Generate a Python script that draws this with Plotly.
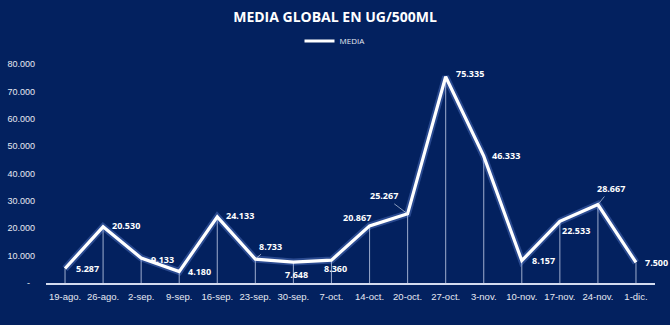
import plotly.graph_objects as go

# Weekly sampling dates and global mean values (ug/500ml)
fechas = ["19-ago.", "26-ago.", "2-sep.", "9-sep.", "16-sep.", "23-sep.", "30-sep.", "7-oct.",
          "14-oct.", "20-oct.", "27-oct.", "3-nov.", "10-nov.", "17-nov.", "24-nov.", "1-dic."]
media = [5287, 20530, 9133, 4180, 24133, 8733, 7648, 8360,
         20867, 25267, 75335, 46333, 8157, 22533, 28667, 7500]
serie = "MEDIA"

y_ticks = [0, 10000, 20000, 30000, 40000, 50000, 60000, 70000, 80000]

# label placement (pixel offset of label centre from its point) and leader-line flag
label_dx = [22, 23, 21, 20, 23, 15, 3, 4, -13, -24, 24, 22, 22, 16, 13, 21]
label_dy = [0, -1, 1, 0, -1, -13, 12, 8, -8, -18, -3, -1, 0, 9, -16, 0]
leader = [False, False, False, False, False, True, False, False,
          False, True, False, False, False, False, True, False]

BG = "#03215f"
TXT = "#e6e9f2"


def fmt(v):
    return f"{v:,}".replace(",", ".")


fig = go.Figure()

# drop lines from each point to the axis
fig.add_trace(go.Scatter(
    x=fechas, y=media, mode="markers", marker=dict(size=0.1, color="rgba(0,0,0,0)"),
    error_y=dict(type="data", symmetric=False, array=[0] * len(media), arrayminus=media,
                 color="rgba(205,215,240,0.7)", thickness=1.1, width=0),
    showlegend=False, hoverinfo="skip"))

# soft glow under the line
fig.add_trace(go.Scatter(
    x=fechas, y=media, mode="lines",
    line=dict(color="rgba(130,165,255,0.3)", width=7),
    showlegend=False, hoverinfo="skip"))

fig.add_trace(go.Scatter(
    x=fechas, y=media, mode="lines", name=serie,
    line=dict(color="white", width=3.2)))

for i, (f, v) in enumerate(zip(fechas, media)):
    fig.add_annotation(
        x=f, y=v, xref="x", yref="y", text=f"<b>{fmt(v)}</b>",
        showarrow=True, ax=label_dx[i], ay=label_dy[i],
        arrowhead=0, arrowwidth=0.8, standoff=0, startstandoff=0,
        arrowcolor="rgba(220,228,245,0.8)" if leader[i] else "rgba(0,0,0,0)",
        font=dict(family="Open Sans", size=9, color="white"))

fig.update_layout(
    width=670, height=325,
    paper_bgcolor=BG, plot_bgcolor=BG,
    margin=dict(l=46, r=15, t=64, b=42, autoexpand=False),
    title=dict(text="<b>MEDIA GLOBAL EN UG/500ML</b>", x=0.5, xanchor="center",
               y=1 - 17 / 325, yanchor="middle", yref="container",
               font=dict(family="Open Sans", size=14, color="white")),
    legend=dict(orientation="h", x=0.5, xanchor="center", xref="container",
                y=1 - 41 / 325, yanchor="middle", yref="container",
                font=dict(family="Open Sans", size=8, color=TXT),
                itemwidth=30, bgcolor="rgba(0,0,0,0)"),
    xaxis=dict(type="category", range=[-0.5, len(fechas) - 0.5],
               showgrid=False, zeroline=False, showline=True,
               linecolor="#d3dbef", linewidth=2, ticks="",
               ticklabelstandoff=4,
               tickfont=dict(family="Liberation Sans", size=9.5, color=TXT)),
    yaxis=dict(range=[0, 80000], tickvals=y_ticks,
               ticktext=["-  "] + [fmt(t) for t in y_ticks[1:]],
               showgrid=False, zeroline=False, showline=False, ticks="",
               ticklabelstandoff=10,
               tickfont=dict(family="Liberation Sans", size=9, color=TXT)),
    showlegend=True,
)

fig.write_html("out.html")
